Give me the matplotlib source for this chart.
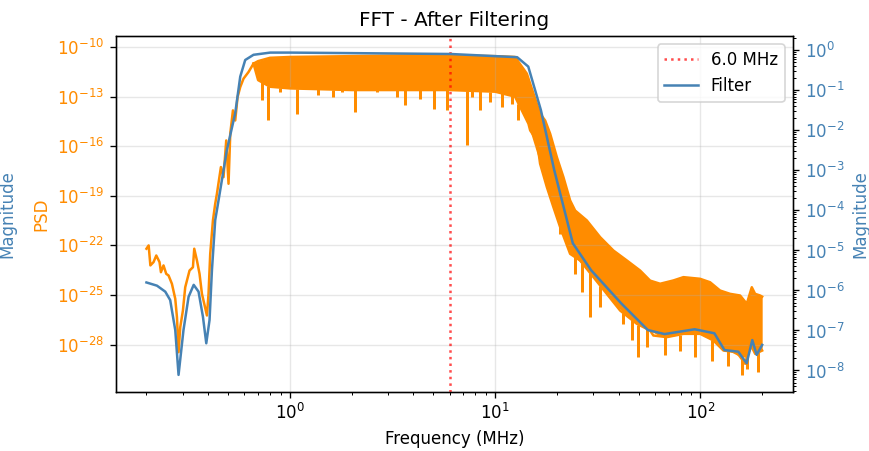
import numpy as np
import matplotlib
matplotlib.use('Agg')
import matplotlib.pyplot as plt

# PSD below the pass band (MHz, log10 PSD)
low_f = [0.2, 0.205, 0.209, 0.2166, 0.2233, 0.2316, 0.2353, 0.2422, 0.2497, 0.2563,
         0.2661, 0.2763, 0.2816, 0.2867, 0.2922, 0.3011, 0.309, 0.3243, 0.3369, 0.3419,
         0.3524, 0.3628, 0.3727, 0.3825, 0.3942, 0.4013, 0.409, 0.4216, 0.4326, 0.441,
         0.4611, 0.4748, 0.4895, 0.5023, 0.5121, 0.5277, 0.5415, 0.5557, 0.5728, 0.5943,
         0.6285, 0.6648]
low_psd = [-22.2, -22.0, -23.21, -23.01, -22.61, -23.01, -23.62, -23.21, -23.72, -23.82,
           -24.32, -25.23, -26.34, -28.46, -26.95, -25.94, -24.53, -23.52, -23.32, -22.2,
           -22.91, -23.72, -24.93, -25.53, -26.24, -24.93, -22.51, -20.49, -19.48, -18.87,
           -17.26, -17.87, -15.65, -18.27, -15.24, -13.83, -14.44, -13.03, -12.42, -11.91,
           -11.51, -11.0]

# upper / lower envelope of the dense part
up_f = [0.6648, 0.7, 0.8, 1.0, 2.0, 4.0, 6.0, 10.0, 12.5, 14.27, 16.56, 17.52, 18.53,
        19.98, 21.51, 23.19, 24.53, 27.97, 32.47, 37.69, 43.8, 50.85, 56.89, 63.65,
        73.88, 82.66, 99.66, 111.5, 124.7, 139.5, 156.1, 168.3, 178.0, 184.7, 195.3, 200.0]
up_psd = [-11.0, -10.85, -10.65, -10.6, -10.55, -10.5, -10.5, -10.55, -10.6, -11.61,
          -14.03, -14.44, -15.24, -16.66, -17.87, -19.28, -19.89, -20.49, -21.5, -22.31,
          -22.91, -23.52, -24.13, -24.32, -24.12, -23.92, -24.02, -24.23, -24.73, -24.93,
          -25.03, -25.53, -24.53, -24.93, -25.03, -25.1]
lo_f = [0.6648, 0.7, 0.8, 1.0, 2.0, 4.0, 6.0, 10.0, 12.5, 14.53, 14.81, 15.97, 16.56,
        17.86, 19.23, 20.74, 23.19, 25.94, 30.12, 34.99, 40.64, 48.98, 56.89, 59.0, 68.6,
        82.7, 99.7, 115.7, 129.5, 150.4, 165.3, 174.7, 184.9, 200.0]
lo_psd = [-11.0, -12.0, -12.4, -12.5, -12.6, -12.6, -12.6, -12.7, -13.0, -14.64, -15.04,
          -15.65, -17.06, -18.47, -19.69, -20.9, -22.51, -22.91, -23.92, -24.93, -25.94,
          -26.74, -27.15, -27.45, -27.55, -27.35, -27.35, -27.75, -28.36, -28.46, -29.16,
          -27.95, -28.56, -28.36]

# downward spikes
spike_f = [0.73, 0.786, 0.897, 1.082, 1.378, 1.63, 1.79, 2.08, 2.65, 3.32, 3.62, 4.31,
           5.01, 5.81, 7.28, 7.69, 8.39, 9.43, 10.78, 12.06, 12.99,
           16.89, 20.74, 24.53, 26.45, 29.02, 32.47, 42.17, 46.3, 49.9, 54.8, 67.3, 79.6,
           94.2, 113.6, 136.8, 159.1, 168.3, 191.7]
spike_psd = [-13.23, -14.44, -12.72, -14.03, -12.92, -13.03, -12.72, -13.93, -12.72,
             -13.03, -13.53, -13.12, -13.73, -13.83, -15.95, -13.03, -13.83, -13.33,
             -13.63, -13.43, -14.44,
             -17.36, -21.3, -23.72, -24.83, -26.34, -25.74,
             -26.74, -27.75, -28.77, -28.16, -28.66, -28.36, -28.77, -28.97, -29.27,
             -29.87, -29.47, -29.67]

# filter magnitude (log10)
filt_f = [0.2, 0.225, 0.247, 0.261, 0.2763, 0.2867, 0.303, 0.3208, 0.3398, 0.3588,
          0.377, 0.3913, 0.4059, 0.417, 0.4326, 0.441, 0.493, 0.5415, 0.5728, 0.6057,
          0.6648, 0.8016, 1.0, 6.06, 12.8, 14.5, 16.7, 19.4, 23.9, 29.3, 41.1, 55.5,
          66.9, 93.8, 117, 131, 153, 168, 179, 188, 200]
filt_mag = [-5.8, -5.88, -6.03, -6.24, -6.99, -8.11, -6.99, -6.16, -5.86, -6.03, -6.66,
            -7.32, -6.74, -5.49, -4.24, -3.99, -2.49, -1.57, -0.655, -0.24, -0.11, -0.055,
            -0.055, -0.09, -0.17, -0.405, -1.49, -2.99, -4.82, -5.49, -6.32, -6.99, -7.09,
            -6.97, -7.07, -7.49, -7.53, -7.82, -7.24, -7.61, -7.36]

cutoff = 6.0

fig = plt.figure(figsize=(869 / 120, 451 / 120), dpi=120)
ax = fig.add_axes([0.1331, 0.1315, 0.7794, 0.7887])
ax2 = ax.twinx()

orange = 'darkorange'
blue = 'steelblue'

ax.plot(low_f, 10.0**np.array(low_psd), color=orange, lw=1.5)
ax.fill_between(up_f, 10.0**np.array(up_psd),
                10.0**np.interp(np.log10(up_f), np.log10(lo_f), lo_psd),
                color=orange, lw=0)
ax.plot(up_f, 10.0**np.array(up_psd), color=orange, lw=1.5)
ax.plot(lo_f, 10.0**np.array(lo_psd), color=orange, lw=1.5)
ax.vlines(spike_f, 10.0**np.array(spike_psd),
          10.0**np.interp(np.log10(spike_f), np.log10(lo_f), lo_psd),
          color=orange, lw=1.8)
ax.set_xscale('log')
ax.set_yscale('log')
ax.set_ylim(10**-30.85, 10**-9.33)
ax.set_ylabel('PSD', color=orange)
ax.tick_params(axis='y', labelcolor=orange)
ax.set_xlabel('Frequency (MHz)')
ax.grid(True, alpha=0.3)
ax.set_title('FFT - After Filtering')

ax2.axvline(cutoff, color='red', linestyle=':', alpha=0.7, label=f'{cutoff:.1f} MHz')
ax2.plot(filt_f, 10.0**np.array(filt_mag), color=blue, lw=1.5, label='Filter')
ax2.set_yscale('log')
ax2.set_ylim(10**-8.53, 10**0.36)
ax2.set_ylabel('Magnitude', color=blue)
ax2.tick_params(axis='y', labelcolor=blue)
ax2.legend(loc='upper right')

fig.text(-0.002, 0.525, 'Magnitude', color=blue, rotation=90, va='center', ha='left')

fig.savefig('out.png', dpi=120)
